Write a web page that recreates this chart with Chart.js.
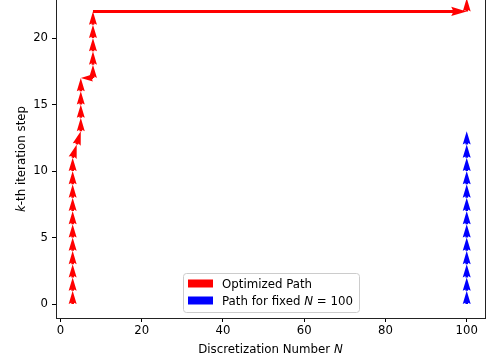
<!DOCTYPE html>
<html>
<head>
<meta charset="utf-8">
<script src="https://cdn.jsdelivr.net/npm/chart.js@4.4.1/dist/chart.umd.min.js"></script>
<style>
  html, body { margin: 0; padding: 0; background: #fff; }
  #chart { display: block; }
</style>
</head>
<body>
<canvas id="chart" width="489" height="363"></canvas>
<script>
(function () {
    "use strict";

    // quiver data: arrow tails (N, k) and their steps (dN, dk)
    const redX = [3, 3, 3, 3, 3, 3, 3, 3, 3, 3, 3, 3, 4, 5, 5, 5, 5, 8, 8, 8, 8, 8, 8, 8, 100];
    const redY = [0, 1, 2, 3, 4, 5, 6, 7, 8, 9, 10, 11, 12, 13, 14, 15, 16, 17, 17, 18, 19, 20, 21, 22, 22];
    const redU = [0, 0, 0, 0, 0, 0, 0, 0, 0, 0, 0, 1, 1, 0, 0, 0, 0, -3, 0, 0, 0, 0, 0, 92, 0];
    const redV = [1, 1, 1, 1, 1, 1, 1, 1, 1, 1, 1, 1, 1, 1, 1, 1, 1, 0, 1, 1, 1, 1, 1, 0, 1];

    const blueX = [100, 100, 100, 100, 100, 100, 100, 100, 100, 100, 100, 100, 100];
    const blueY = [0, 1, 2, 3, 4, 5, 6, 7, 8, 9, 10, 11, 12];
    const blueU = [0, 0, 0, 0, 0, 0, 0, 0, 0, 0, 0, 0, 0];
    const blueV = [1, 1, 1, 1, 1, 1, 1, 1, 1, 1, 1, 1, 1];

    const xTicks = [0, 20, 40, 60, 80, 100];
    const yTicks = [0, 5, 10, 15, 20];

    const FONT = '"DejaVu Sans", "Liberation Sans", sans-serif';
    const FONT_SIZE = 11.8;

    const series = [
        { label: "Optimized Path", color: "#ff0000", x: redX, y: redY, u: redU, v: redV },
        { label: "Path for fixed N = 100", color: "#0000ff", x: blueX, y: blueY, u: blueU, v: blueV }
    ];

    // matplotlib-style quiver arrow, sizes in px
    const SHAFT = 3.1;
    const HEAD_LEN = 5 * SHAFT;
    const HEAD_AXIS = 4.5 * SHAFT;
    const HEAD_W = 3 * SHAFT;
    const MIN_SHAFT = HEAD_LEN;

    function arrow(ctx, x0, y0, x1, y1) {
        const dx = x1 - x0, dy = y1 - y0;
        const len = Math.hypot(dx, dy);
        if (!len) return;
        const ux = dx / len, uy = dy / len;
        const nx = -uy, ny = ux;
        let pts;
        if (len < MIN_SHAFT) {
            const s = len / MIN_SHAFT;
            pts = [[0, SHAFT / 2], [MIN_SHAFT - HEAD_AXIS, SHAFT / 2], [MIN_SHAFT - HEAD_LEN, HEAD_W / 2], [MIN_SHAFT, 0],
                   [MIN_SHAFT - HEAD_LEN, -HEAD_W / 2], [MIN_SHAFT - HEAD_AXIS, -SHAFT / 2], [0, -SHAFT / 2]]
                .map(p => [p[0] * s, p[1] * s]);
        } else {
            pts = [[0, SHAFT / 2], [len - HEAD_AXIS, SHAFT / 2], [len - HEAD_LEN, HEAD_W / 2], [len, 0],
                   [len - HEAD_LEN, -HEAD_W / 2], [len - HEAD_AXIS, -SHAFT / 2], [0, -SHAFT / 2]];
        }
        ctx.beginPath();
        pts.forEach((p, i) => {
            const px = x0 + ux * p[0] + nx * p[1];
            const py = y0 + uy * p[0] + ny * p[1];
            if (i === 0) ctx.moveTo(px, py); else ctx.lineTo(px, py);
        });
        ctx.closePath();
        ctx.fill();
    }

    function mixedText(ctx, parts, x, y, align) {
        const widths = parts.map(p => {
            ctx.font = (p.italic ? "italic " : "") + FONT_SIZE + "px " + FONT;
            return ctx.measureText(p.text).width;
        });
        const total = widths.reduce((a, b) => a + b, 0);
        let cx = align === "center" ? x - total / 2 : x;
        parts.forEach((p, i) => {
            ctx.font = (p.italic ? "italic " : "") + FONT_SIZE + "px " + FONT;
            ctx.fillText(p.text, cx, y);
            cx += widths[i];
        });
    }

    const quiverPlugin = {
        id: "quiver",
        afterDatasetsDraw(chart) {
            const { ctx, scales } = chart;
            ctx.save();
            series.forEach(s => {
                ctx.fillStyle = s.color;
                s.x.forEach((n, i) => {
                    const x0 = scales.x.getPixelForValue(n);
                    const y0 = scales.y.getPixelForValue(s.y[i]);
                    const x1 = scales.x.getPixelForValue(n + s.u[i]);
                    const y1 = scales.y.getPixelForValue(s.y[i] + s.v[i]);
                    arrow(ctx, x0, y0, x1, y1);
                });
            });
            ctx.restore();
        },
        afterDraw(chart) {
            const { ctx, chartArea: a } = chart;
            ctx.save();
            // right spine (top spine sits above the canvas)
            ctx.strokeStyle = "#222";
            ctx.lineWidth = 1;
            ctx.beginPath();
            ctx.moveTo(a.right + 0.5, a.top);
            ctx.lineTo(a.right + 0.5, a.bottom);
            ctx.stroke();

            ctx.fillStyle = "#000";
            ctx.textBaseline = "alphabetic";
            mixedText(ctx, [{ text: "Discretization Number " }, { text: "N", italic: true }],
                (a.left + a.right) / 2, 353, "center");

            ctx.save();
            ctx.translate(25, (a.top + a.bottom) / 2);
            ctx.rotate(-Math.PI / 2);
            mixedText(ctx, [{ text: "k", italic: true }, { text: "-th iteration step" }], 0, 0, "center");
            ctx.restore();

            // legend
            const bx = 183.5, by = 273.5, bw = 176, bh = 39, r = 3;
            ctx.beginPath();
            ctx.moveTo(bx + r, by);
            ctx.arcTo(bx + bw, by, bx + bw, by + bh, r);
            ctx.arcTo(bx + bw, by + bh, bx, by + bh, r);
            ctx.arcTo(bx, by + bh, bx, by, r);
            ctx.arcTo(bx, by, bx + bw, by, r);
            ctx.closePath();
            ctx.fillStyle = "rgba(255,255,255,0.8)";
            ctx.fill();
            ctx.strokeStyle = "#cccccc";
            ctx.stroke();

            ctx.fillStyle = series[0].color;
            ctx.fillRect(188, 279.5, 25, 8);
            ctx.fillStyle = series[1].color;
            ctx.fillRect(188, 296.5, 25, 8);

            ctx.fillStyle = "#000";
            mixedText(ctx, [{ text: "Optimized Path" }], 222, 288, "left");
            mixedText(ctx, [{ text: "Path for fixed " }, { text: "N", italic: true }, { text: " = 100" }], 222, 305, "left");
            ctx.restore();
        }
    };

    const tickFont = { family: FONT, size: 11.7 };

    new Chart(document.getElementById("chart").getContext("2d"), {
        type: "scatter",
        data: {
            datasets: series.map(s => ({
                label: s.label,
                data: s.x.map((n, i) => ({ x: n, y: s.y[i] })),
                pointRadius: 0,
                pointHoverRadius: 0,
                showLine: false,
                borderColor: s.color,
                backgroundColor: s.color
            }))
        },
        options: {
            responsive: false,
            devicePixelRatio: 1,
            animation: false,
            events: [],
            layout: { padding: { left: 0, right: 4, top: 0, bottom: 0 } },
            plugins: { legend: { display: false }, tooltip: { enabled: false } },
            scales: {
                x: {
                    type: "linear",
                    min: -1.1,
                    max: 104.5,
                    afterBuildTicks: scale => { scale.ticks = xTicks.map(v => ({ value: v })); },
                    afterFit: scale => { scale.height = 45; scale.paddingLeft = 0; scale.paddingRight = 0; },
                    grid: { drawOnChartArea: false, drawTicks: true, tickLength: 4, color: "#000", tickWidth: 1 },
                    border: { display: true, color: "#222", width: 1 },
                    ticks: { font: tickFont, color: "#000", padding: 2, maxRotation: 0 }
                },
                y: {
                    type: "linear",
                    min: -1.05,
                    max: 22.86,
                    afterBuildTicks: scale => { scale.ticks = yTicks.map(v => ({ value: v })); },
                    afterFit: scale => { scale.width = 56; scale.paddingTop = 0; scale.paddingBottom = 0; },
                    grid: { drawOnChartArea: false, drawTicks: true, tickLength: 4, color: "#000", tickWidth: 1 },
                    border: { display: true, color: "#222", width: 1 },
                    ticks: { font: tickFont, color: "#000", padding: 4 }
                }
            }
        },
        plugins: [quiverPlugin]
    });
})();
</script>
</body>
</html>
